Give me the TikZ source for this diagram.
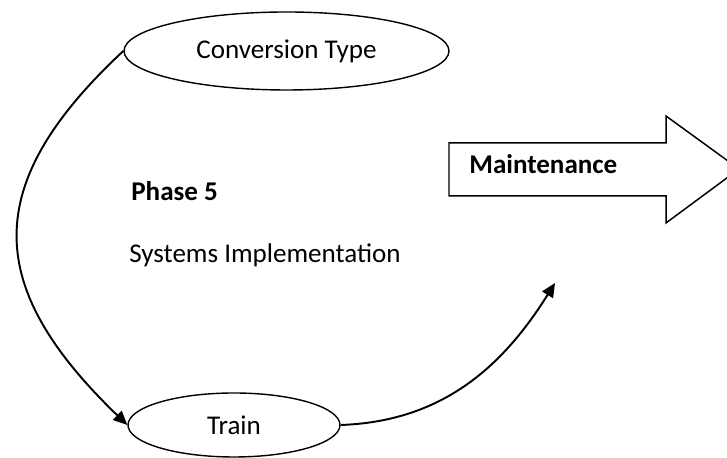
\documentclass[tikz,border=0pt]{standalone}
\usepackage{fontspec}
\setmainfont{Carlito}
\usetikzlibrary{positioning,shapes.geometric,arrows.meta,calc}
\tikzset{
  oval/.style={draw, ellipse, line width=0.8pt, inner sep=0pt},
  flow/.style={line width=1.1pt, -{Triangle[length=2.8mm, width=2.5mm]}},
  lbl/.style={anchor=base west, inner sep=0pt}}

\begin{document}
\begin{tikzpicture}[font=\fontsize{15.4}{18}\selectfont]
\useasboundingbox (0,0) rectangle (14.54,9.16);
\node[oval, minimum width=65mm, minimum height=15.6mm] (conv) at (5.73,8.14) {Conversion Type};
\node[oval, minimum width=42.4mm, minimum height=12.8mm] (trn) at (4.68,0.66) {Train};
\node[lbl, font=\fontsize{15.4}{18}\selectfont\bfseries] (ph) at (2.62,5.14) {Phase 5};
\node[lbl] (si) at (2.58,3.90) {Systems Implementation};
\coordinate (end) at (11.1,3.5);
\draw[flow] (conv.west) to[out=223, in=136, looseness=1.35] (trn.west);
\draw[flow] (trn.east) to[out=2, in=238] (end);
% block arrow, its tip runs off the page
\draw[line width=0.85pt, fill=white] (8.98,5.24) -- (8.98,6.30) -- (13.32,6.30) -- (13.32,6.84)
  -- (14.78,5.78) -- (13.32,4.70) -- (13.32,5.24) -- cycle;
\node[lbl, font=\fontsize{15.4}{18}\selectfont\bfseries] (mnt) at (9.38,5.68) {Maintenance};
\end{tikzpicture}
\end{document}
